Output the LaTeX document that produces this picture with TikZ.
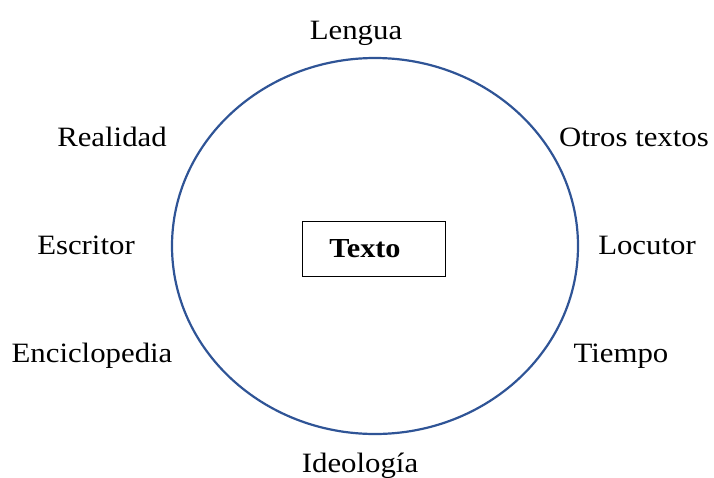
\documentclass[tikz,border=0pt]{standalone}
\usepackage{fontspec}
\setmainfont[FakeStretch=1.1]{Liberation Serif}
\usetikzlibrary{shapes.geometric}
\definecolor{ringblue}{HTML}{2F5496}
\begin{document}
\begin{tikzpicture}[x=1pt,y=-1pt,
  lab/.style={anchor=base,inner sep=0pt,font=\fontsize{28}{30}\selectfont},
  ring/.style={draw=ringblue,line width=2.2pt}]
\useasboundingbox (0,0) rectangle (714,477);
\node[ring,ellipse,minimum width=406pt,minimum height=376pt,inner sep=0pt] (ring) at (375,246) {};
\node[draw=black,line width=1pt,minimum width=143pt,minimum height=55pt,inner sep=0pt] (box) at (373.5,248.5) {};
\node[lab,font=\fontsize{27.5}{30}\selectfont\bfseries] (texto) at (365,257) {Texto};
\node[lab] (lengua) at (356,39) {Lengua};
\node[lab] (realidad) at (112,146) {Realidad};
\node[lab] (otros) at (634,146) {Otros textos};
\node[lab] (escritor) at (86,254) {Escritor};
\node[lab] (locutor) at (647,254) {Locutor};
\node[lab] (enciclo) at (92,362) {Enciclopedia};
\node[lab] (tiempo) at (621,362) {Tiempo};
\node[lab] (ideo) at (360,472) {Ideología};
\end{tikzpicture}
\end{document}
